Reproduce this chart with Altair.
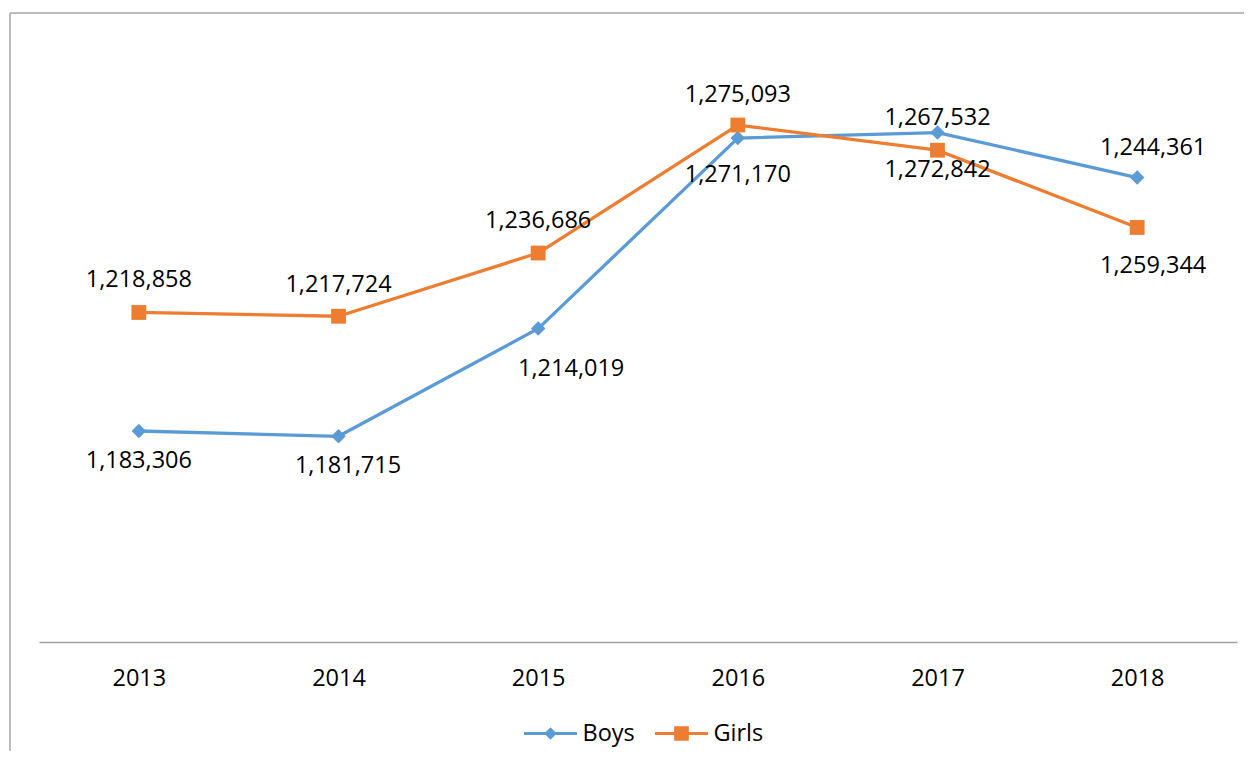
import altair as alt
import pandas as pd

# ---- data ----
years = ["2013", "2014", "2015", "2016", "2017", "2018"]
boys = [1183306, 1181715, 1214019, 1271170, 1272842, 1259344]
girls = [1218858, 1217724, 1236686, 1275093, 1267532, 1244361]
series_names = ["Boys", "Girls"]
series_colors = ["#5B9BD5", "#ED7D31"]

# label nudges (pixels) reproducing the hand-placed data labels
boys_label_dx = [0, 9.5, 33, 0, 0, 16]
boys_label_dy = [37, 37, 47, 44, 44.5, 95.5]
girls_label_dx = [0, 0, 0, 0, 0, 16]
girls_label_dy = [-25, -24, -25, -23.5, -25, -72.5]

FONT = "Open Sans"
W, H = 1198, 600
Y_MIN, Y_MAX = 1120000, 1300000
STEP = W / len(years)              # pixels per category
UNITS_PER_PX = (Y_MAX - Y_MIN) / H

rows = []
for i, yr in enumerate(years):
    for name, vals, ldx, ldy in (("Boys", boys, boys_label_dx, boys_label_dy),
                                 ("Girls", girls, girls_label_dx, girls_label_dy)):
        rows.append({"xi": i, "year": yr, "series": name, "value": vals[i],
                     "lx": i + ldx[i] / STEP,
                     "ly": vals[i] - ldy[i] * UNITS_PER_PX})
df = pd.DataFrame(rows)

label_expr = "[" + ",".join("'%s'" % y for y in years) + "][datum.value]"
x_scale = alt.Scale(domain=[-0.5, len(years) - 0.5], nice=False, zero=False)
x_axis = alt.Axis(title=None, values=list(range(len(years))), labelExpr=label_expr,
                  labelAngle=0, ticks=False, tickSize=0, labelPadding=43,
                  labelBaseline="alphabetic", labelFont=FONT, labelFontSize=23.5,
                  labelColor="#000000", domainColor="#A0A0A0", domainWidth=1.3,
                  grid=False, labelFlush=False, labelOverlap=False)
y_scale = alt.Scale(domain=[Y_MIN, Y_MAX], nice=False, zero=False)

x_enc = alt.X("xi:Q", scale=x_scale, axis=x_axis)
y_enc = alt.Y("value:Q", scale=y_scale, axis=None)

base = alt.Chart(df)
one = alt.Data(values=[{"a": 1}])

# outer chart frame (top and left edges visible in the reference)
frame_top = alt.Chart(one).mark_rule(color="#A6A6A6", strokeWidth=1.5).encode(
    x=alt.value(-29), x2=alt.value(1205), y=alt.value(-29))
frame_left = alt.Chart(one).mark_rule(color="#A6A6A6", strokeWidth=1.5).encode(
    x=alt.value(-29), y=alt.value(-29), y2=alt.value(709))

layers = [frame_top, frame_left]
shapes = {"Boys": ("diamond", 210), "Girls": ("square", 220)}
for name, col in zip(series_names, series_colors):
    sub = base.transform_filter(alt.datum.series == name)
    layers.append(sub.mark_line(color=col, strokeWidth=3.3, strokeJoin="round",
                                strokeCap="round").encode(x=x_enc, y=y_enc))
for name, col in zip(series_names, series_colors):
    sub = base.transform_filter(alt.datum.series == name)
    shp, sz = shapes[name]
    layers.append(sub.mark_point(shape=shp, size=sz, filled=True, opacity=1,
                                 color=col, strokeWidth=0).encode(x=x_enc, y=y_enc))
layers.append(base.mark_text(font=FONT, fontSize=23.5, color="#000000",
                             align="center", baseline="alphabetic").encode(
    x=alt.X("lx:Q", scale=x_scale, axis=x_axis),
    y=alt.Y("ly:Q", scale=y_scale, axis=None),
    text=alt.Text("value:Q", format=",")))

# legend (line + marker symbols), from a layer that draws no marks
boys_path = ("M-1,-0.06L-0.18,-0.06L0,-0.24L0.18,-0.06L1,-0.06L1,0.06"
             "L0.18,0.06L0,0.24L-0.18,0.06L-1,0.06Z")
girls_path = ("M-1,-0.06L-0.277,-0.06L-0.277,-0.277L0.277,-0.277L0.277,-0.06"
              "L1,-0.06L1,0.06L0.277,0.06L0.277,0.277L-0.277,0.277L-0.277,0.06L-1,0.06Z")
legend_layer = base.transform_filter("false").mark_point(filled=True, opacity=1).encode(
    x=x_enc, y=y_enc,
    color=alt.Color("series:N", scale=alt.Scale(domain=series_names, range=series_colors),
                    legend=alt.Legend(title=None, orient="none", legendX=485, legendY=665,
                                      direction="horizontal", symbolSize=2809,
                                      symbolOpacity=1, symbolStrokeWidth=0,
                                      labelFont=FONT, labelFontSize=23.5,
                                      labelColor="#000000", labelOffset=5.5,
                                      columnPadding=20, padding=0)),
    shape=alt.Shape("series:N", scale=alt.Scale(domain=series_names,
                                                range=[boys_path, girls_path])),
)
layers.append(legend_layer)

chart = alt.layer(*layers).properties(
    width=W, height=H,
    autosize=alt.AutoSizeParams(type="none"),
    padding={"left": 31, "top": 34, "right": 7, "bottom": 109},
    background="white",
).configure_view(stroke="transparent", strokeWidth=0)

chart.save("out.html", embed_options={"renderer": "svg", "actions": False})
